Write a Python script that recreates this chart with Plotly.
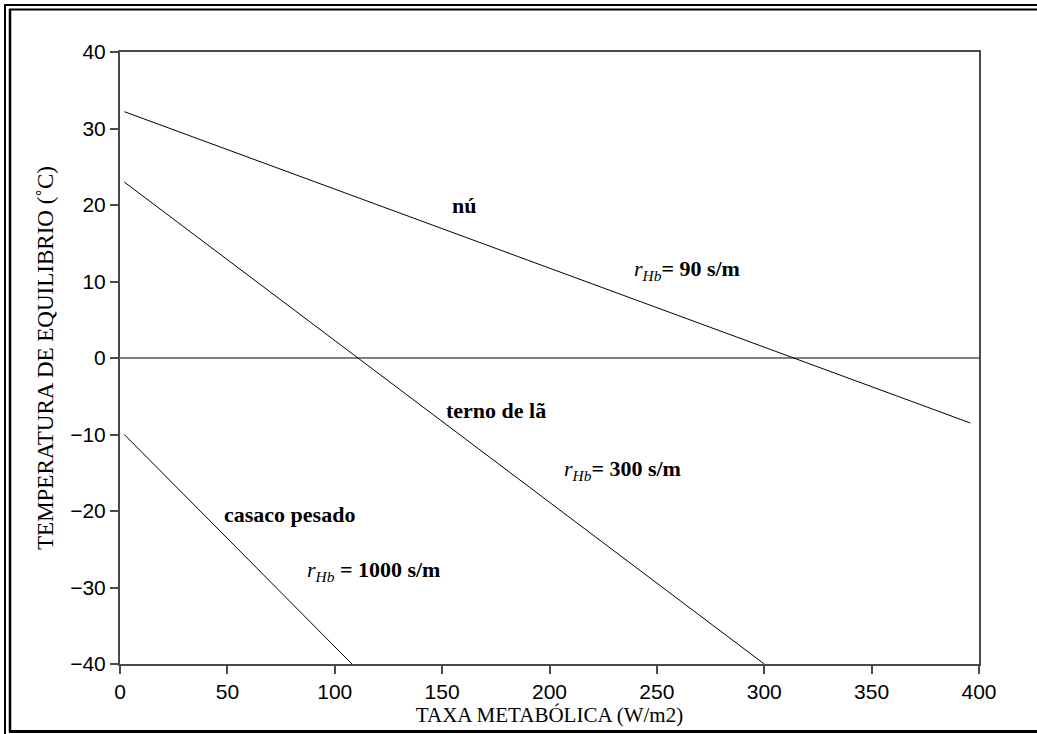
import plotly.graph_objects as go

# Data
x_nu = [2, 396]
y_nu = [32.2, -8.5]
x_terno = [2, 300]
y_terno = [23, -40]
x_casaco = [2, 108]
y_casaco = [-10, -40]
x_zero = [0, 400]
y_zero = [0, 0]

ann_text = ["<b>nú</b>",
            "<i>r</i><sub><i>Hb</i></sub><b>= 90 s/m</b>",
            "<b>terno de lã</b>",
            "<i>r</i><sub><i>Hb</i></sub><b>= 300 s/m</b>",
            "<b>casaco pesado</b>",
            "<i>r</i><sub><i>Hb</i></sub><b> = 1000 s/m</b>"]
ann_x = [160, 264, 175, 234, 79, 118]
ann_y = [20, 11.5, -6.8, -14.6, -20.4, -27.8]

x_ticks = [0, 50, 100, 150, 200, 250, 300, 350, 400]
y_ticks = [-40, -30, -20, -10, 0, 10, 20, 30, 40]

W, H = 1037, 734
L, R, T, B = 120, 979, 52, 664

fig = go.Figure()
line_style = dict(color="black", width=1)
for xs, ys in [(x_zero, y_zero), (x_nu, y_nu), (x_terno, y_terno), (x_casaco, y_casaco)]:
    fig.add_trace(go.Scatter(x=xs, y=ys, mode="lines", line=line_style,
                             showlegend=False, hoverinfo="skip"))

for t, xa, ya in zip(ann_text, ann_x, ann_y):
    fig.add_annotation(x=xa, y=ya, text=t, showarrow=False,
                       font=dict(family="Liberation Serif", size=22, color="black"))

def px(v):
    return (v - L) / (R - L)

def py(v):
    return (B - v) / (B - T)

shapes = [
    # outer frame
    dict(type="line", xref="paper", yref="paper", x0=px(5), x1=px(5), y0=py(4.5), y1=py(736), line=dict(color="black", width=2)),
    dict(type="line", xref="paper", yref="paper", x0=px(4), x1=px(1040), y0=py(5), y1=py(5), line=dict(color="black", width=2)),
    # inner frame
    dict(type="line", xref="paper", yref="paper", x0=px(10), x1=px(10), y0=py(9), y1=py(732), line=dict(color="black", width=2.5)),
    dict(type="line", xref="paper", yref="paper", x0=px(9), x1=px(1040), y0=py(9.5), y1=py(9.5), line=dict(color="black", width=2)),
    dict(type="line", xref="paper", yref="paper", x0=px(9), x1=px(1040), y0=py(731.5), y1=py(731.5), line=dict(color="black", width=3)),
]

axis_common = dict(showgrid=False, zeroline=False, showline=True, linecolor="#4a4a4a",
                   linewidth=2, mirror=True, ticks="outside", ticklen=8, tickwidth=1.5,
                   tickcolor="#4a4a4a",
                   tickfont=dict(family="Liberation Sans", size=21, color="black"))

fig.update_layout(
    width=W, height=H,
    margin=dict(l=L, r=W - R, t=T, b=H - B),
    plot_bgcolor="white", paper_bgcolor="white",
    shapes=shapes,
    xaxis=dict(range=[0, 400], tickvals=x_ticks, ticktext=[str(v) for v in x_ticks],
               title=dict(text="TAXA METABÓLICA (W/m2)", standoff=0,
                          font=dict(family="Liberation Serif", size=21, color="black")),
               **axis_common),
    yaxis=dict(range=[-40, 40], tickvals=y_ticks,
               ticktext=[("\u2212" + str(-v)) if v < 0 else str(v) for v in y_ticks],
               title=dict(text="TEMPERATURA DE EQUILIBRIO (˚C)", standoff=10,
                          font=dict(family="Liberation Serif", size=23, color="black")),
               **axis_common),
)

fig.write_html("out.html")
